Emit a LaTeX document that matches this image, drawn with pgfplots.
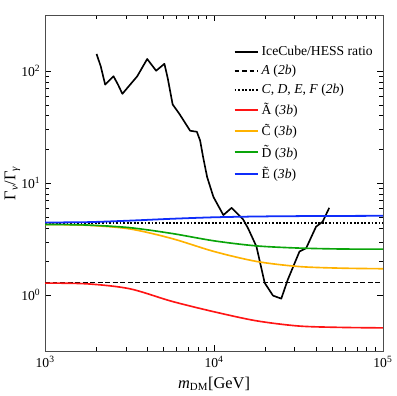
\documentclass[border=0pt]{standalone}
\usepackage{fontspec}
\setmainfont{Liberation Serif}
\usepackage{pgfplots}
\pgfplotsset{compat=1.18}

\definecolor{cRed}{RGB}{255,20,20}
\definecolor{cOrange}{RGB}{255,178,0}
\definecolor{cGreen}{RGB}{10,165,10}
\definecolor{cBlue}{RGB}{15,45,250}

\begin{document}
\begin{tikzpicture}
\begin{axis}[
    scale only axis,
    width=8.7cm, height=8.66cm,
    xmode=log, ymode=log,
    xmin=1000, xmax=100000,
    ymin=0.3162, ymax=316.2,
    xtick={1000,10000,100000},
    xticklabels={10\textsuperscript{3},10\textsuperscript{4},10\textsuperscript{5}},
    ytick={1,10,100},
    yticklabels={10\textsuperscript{0},10\textsuperscript{1},10\textsuperscript{2}},
    tick align=inside,
    tick style={black},
    axis line style={black!70},
    xlabel={\textit{m}\textsubscript{DM}[GeV]},
    ylabel={Γ\textsubscript{\textit{ν}}/Γ\textsubscript{\textit{γ}}},
    ylabel shift={-6pt},
    label style={font=\large},
    legend cell align=left,
    legend image code/.code={\draw[#1, sharp plot, line width=1.5pt] (0cm,0cm) -- (0.6cm,0cm);},
    legend style={draw=none, fill=none, at={(0.545,0.925)}, anchor=north west,
        font=\normalsize, row sep=1.5pt},
]
% IceCube/HESS ratio
\addplot[black, line width=1.2pt, line join=round] coordinates {
 (2014,142) (2133,110) (2265,75.6) (2537,89.8) (2699,75.6) (2864,62.6)
 (3508,89.8) (4017,128) (4539,100.6) (5081,116) (5312,86.7) (5685,50.3)
 (6222,41.6) (7219,29.3) (7910,28.7) (8272,23.9) (8616,17.0) (9100,11.3)
 (9913,7.52) (11350,5.18) (12710,6.01) (14870,4.73) (15910,3.94) (17830,2.71)
 (19950,1.285) (22330,0.99) (25010,0.93) (27350,1.377) (32060,2.45)
 (35100,2.62) (40180,4.08) (43970,4.52) (48100,6.01)
};
\addlegendentry{IceCube/HESS ratio}
\addplot[black, line width=1.1pt, dash pattern=on 3.5pt off 2pt] coordinates {(1000,1.30) (100000,1.30)};
\addlegendentry{\textit{A} (\textit{2b})}
\addplot[black, line width=1.1pt, dash pattern=on 1.3pt off 1.3pt] coordinates {(1000,4.38) (100000,4.38)};
\addlegendentry{\textit{C}, \textit{D}, \textit{E}, \textit{F} (\textit{2b})}
\addplot[cRed, line width=1.2pt, smooth] coordinates {
 (1000,1.28) (1778,1.26) (3162,1.14) (5623,0.88) (10000,0.71)
 (17783,0.59) (31623,0.53) (56234,0.515) (100000,0.51)
};
\addlegendentry{\~{A} (\textit{3b})}
\addplot[cOrange, line width=1.2pt, smooth] coordinates {
 (1000,4.27) (1778,4.20) (3162,3.90) (5623,3.20) (10000,2.45)
 (17783,2.00) (31623,1.80) (56234,1.74) (100000,1.72)
};
\addlegendentry{\~{C} (\textit{3b})}
\addplot[cGreen, line width=1.2pt, smooth] coordinates {
 (1000,4.27) (1778,4.22) (3162,4.00) (5623,3.55) (10000,3.05)
 (17783,2.75) (31623,2.63) (56234,2.58) (100000,2.57)
};
\addlegendentry{\~{D} (\textit{3b})}
\addplot[cBlue, line width=1.3pt, smooth] coordinates {
 (1000,4.45) (1778,4.48) (3162,4.62) (5623,4.80) (10000,4.95)
 (17783,5.03) (31623,5.07) (56234,5.09) (100000,5.10)
};
\addlegendentry{\~{E} (\textit{3b})}
\end{axis}
\path ([yshift=11pt]current axis.north);
\end{tikzpicture}
\end{document}
